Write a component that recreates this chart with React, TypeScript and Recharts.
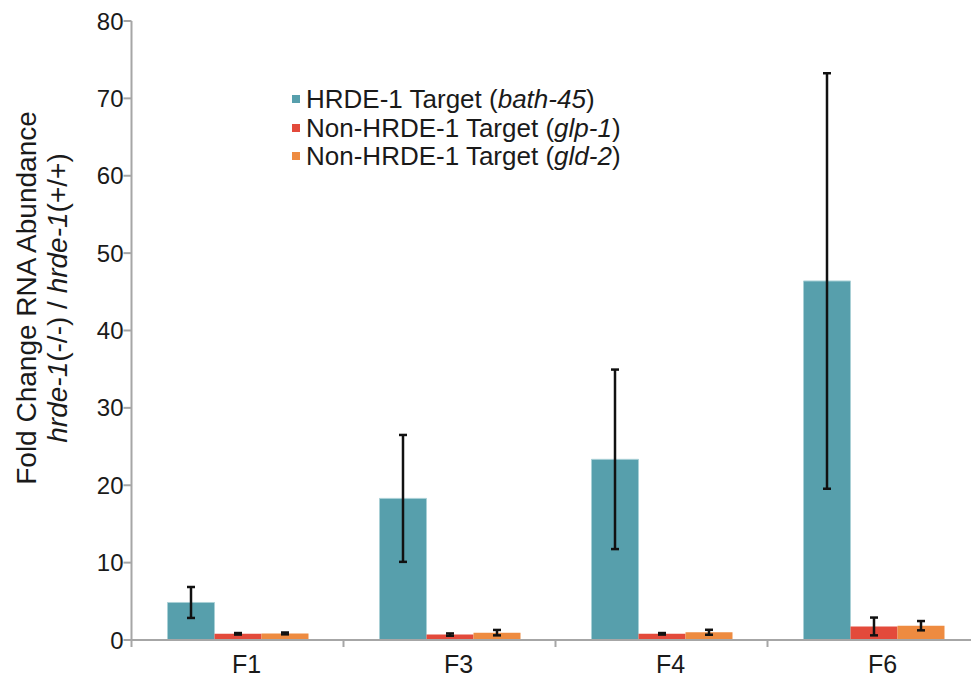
import React from 'react';
import {
  BarChart,
  Bar,
  XAxis,
  YAxis,
  Legend,
  ErrorBar,
} from 'recharts';

const categories = ['F1', 'F3', 'F4', 'F6'];
const bath45 = [4.85, 18.3, 23.35, 46.4];
const bath45Err = [2.0, 8.2, 11.6, 26.85];
const glp1 = [0.8, 0.7, 0.8, 1.75];
const glp1Err = [0.1, 0.15, 0.1, 1.15];
const gld2 = [0.85, 0.95, 1.0, 1.85];
const gld2Err = [0.12, 0.35, 0.32, 0.6];
const yTicks = [0, 10, 20, 30, 40, 50, 60, 70, 80];

const data = categories.map((name, i) => ({
  name,
  bath: bath45[i],
  bathErr: bath45Err[i],
  glp: glp1[i],
  glpErr: glp1Err[i],
  gld: gld2[i],
  gldErr: gld2Err[i],
}));

const font = '"Liberation Sans", Arial, sans-serif';
const axisGray = '#a6a6a6';
const teal = '#579fac';
const red = '#e34a3b';
const orange = '#ee8b40';

const XTick = (props: any) => {
  const { x, y, payload, index } = props;
  const half = payload && payload.offset ? payload.offset : 106;
  return (
    <g>
      {index === 0 && (
        <line x1={x - half} x2={x - half} y1={y} y2={y + 7} stroke={axisGray} strokeWidth={2} />
      )}
      <line x1={x + half} x2={x + half} y1={y} y2={y + 7} stroke={axisGray} strokeWidth={2} />
      <text x={x + 9} y={y + 33} textAnchor="middle" fontSize={25} fill="#1a1a1a" fontFamily={font}>
        {payload.value}
      </text>
    </g>
  );
};

const YLabel = () => (
  <g fontFamily={font} fontSize={28} fill="#1a1a1a">
    <text x={36} y={298} textAnchor="middle" transform="rotate(-90, 36, 298)">
      Fold Change RNA Abundance
    </text>
    <text x={67} y={298} textAnchor="middle" transform="rotate(-90, 67, 298)">
      <tspan fontStyle="italic">hrde-1</tspan>
      <tspan>(-/-) / </tspan>
      <tspan fontStyle="italic">hrde-1</tspan>
      <tspan>(+/+)</tspan>
    </text>
  </g>
);

const legendItems = [
  { color: teal, label: 'HRDE-1 Target (', gene: 'bath-45' },
  { color: red, label: 'Non-HRDE-1 Target (', gene: 'glp-1' },
  { color: orange, label: 'Non-HRDE-1 Target (', gene: 'gld-2' },
];

const LegendBox = () => (
  <div style={{ fontFamily: font, fontSize: 26, color: '#1a1a1a', lineHeight: '28.5px' }}>
    {legendItems.map((it) => (
      <div key={it.gene} style={{ display: 'flex', alignItems: 'center', whiteSpace: 'nowrap' }}>
        <span style={{ width: 8, height: 8, background: it.color, marginRight: 6, display: 'inline-block' }} />
        <span>
          {it.label}
          <i>{it.gene}</i>)
        </span>
      </div>
    ))}
  </div>
);

export default function App() {
  return (
    <div style={{ position: 'absolute', left: 0, top: 0, width: 971, height: 679, overflow: 'hidden', background: '#fff' }}>
      <BarChart
        width={990}
        height={679}
        data={data}
        margin={{ top: 21, right: 10.5, left: 51.5, bottom: 9 }}
        barGap={0}
        barSize={47}
      >
        <XAxis
          dataKey="name"
          height={30}
          tickLine={false}
          tickSize={0}
          tickMargin={0}
          axisLine={{ stroke: axisGray, strokeWidth: 2 }}
          tick={<XTick />}
          interval={0}
        />
        <YAxis
          width={80}
          domain={[0, 80]}
          ticks={yTicks}
          interval={0}
          tickSize={8}
          tickMargin={0}
          axisLine={{ stroke: axisGray, strokeWidth: 2 }}
          tickLine={{ stroke: axisGray, strokeWidth: 2 }}
          tick={{ fontSize: 24, fill: '#1a1a1a', fontFamily: font }}
          label={<YLabel />}
        />
        <Legend
          layout="horizontal"
          verticalAlign="middle"
          align="center"
          content={<LegendBox />}
          wrapperStyle={{ position: 'absolute', left: 292, top: 85, width: 'auto', height: 'auto' }}
        />
        <Bar dataKey="bath" fill={teal} stroke="#a9d0d6" strokeWidth={1} isAnimationActive={false}>
          <ErrorBar dataKey="bathErr" width={4} strokeWidth={2.5} stroke="#111" />
        </Bar>
        <Bar dataKey="glp" fill={red} isAnimationActive={false}>
          <ErrorBar dataKey="glpErr" width={4} strokeWidth={2.5} stroke="#111" />
        </Bar>
        <Bar dataKey="gld" fill={orange} isAnimationActive={false}>
          <ErrorBar dataKey="gldErr" width={4} strokeWidth={2.5} stroke="#111" />
        </Bar>
      </BarChart>
    </div>
  );
}
